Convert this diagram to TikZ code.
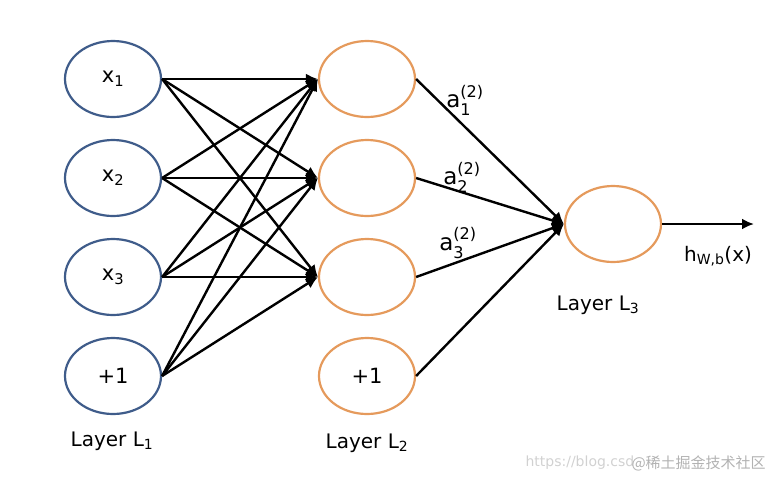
\documentclass[tikz,border=0pt]{standalone}
\usepackage{amsmath}
\usepackage{fontspec}
\setmainfont{DejaVu Sans}
\newfontfamily\cjk{Noto Sans CJK SC}
\usetikzlibrary{shapes.geometric,arrows.meta}
\definecolor{inblue}{HTML}{3F5C8A}
\definecolor{hidorange}{HTML}{E59A5C}
\newcommand{\actv}[1]{$\text{a}^{\text{(2)}}_{\text{#1}}$}
\tikzset{
    neuron/.style={ellipse, draw, line width=2.2pt, minimum width=96pt, minimum height=76pt, inner sep=0pt, font=\fontsize{21}{25}\selectfont},
    inneuron/.style={neuron, draw=inblue},
    hidneuron/.style={neuron, draw=hidorange},
    conn/.style={line width=2.4pt, -{Latex[length=12pt,width=11pt]}},
    lbl/.style={font=\fontsize{20}{24}\selectfont},
    actlbl/.style={font=\fontsize{23}{27}\selectfont}
}
\begin{document}
\begin{tikzpicture}[x=1pt,y=-1pt]
\useasboundingbox (0,0) rectangle (780,480);

% input layer
\node[inneuron] (in1) at (113,79) {x\textsubscript{1}};
\node[inneuron] (in2) at (113,178) {x\textsubscript{2}};
\node[inneuron] (in3) at (113,277) {x\textsubscript{3}};
\node[inneuron] (in4) at (113,376) {+1};

% hidden layer
\node[hidneuron] (hid1) at (367,79) {};
\node[hidneuron] (hid2) at (367,178) {};
\node[hidneuron] (hid3) at (367,277) {};
\node[hidneuron] (hid4) at (367,376) {+1};

% output layer
\node[hidneuron] (out) at (613,224) {};
\coordinate (res) at (754,224);

% all inputs to the three hidden units
\foreach \i in {1,...,4} {
    \foreach \j in {1,...,3} {
        \draw[conn] (in\i.east) -- (hid\j.west);
    }
}
% hidden to output
\foreach \j in {1,...,4} {
    \draw[conn] (hid\j.east) -- (out.west);
}
\draw[conn] (out.east) -- (res);

% activations
\node[actlbl] (act1) at (465,100) {\actv{1}};
\node[actlbl] (act2) at (462,177) {\actv{2}};
\node[actlbl] (act3) at (458,243) {\actv{3}};
\node[lbl] (hyp) at (718,256) {h\textsubscript{W,b}(x)};

% layer names
\node[lbl] (nameA) at (112,441) {Layer L\textsubscript{1}};
\node[lbl] (nameB) at (367,443) {Layer L\textsubscript{2}};
\node[lbl] (nameC) at (598,305) {Layer L\textsubscript{3}};

% watermark
\node[anchor=west, text=black!18, font=\fontsize{14}{16}\selectfont] (wmA) at (522,463) {https://blog.csd};
\node[anchor=west, text=black!30, font=\cjk\fontsize{15}{17}\selectfont] (wmB) at (628,463) {@稀土掘金技术社区};
\end{tikzpicture}
\end{document}
